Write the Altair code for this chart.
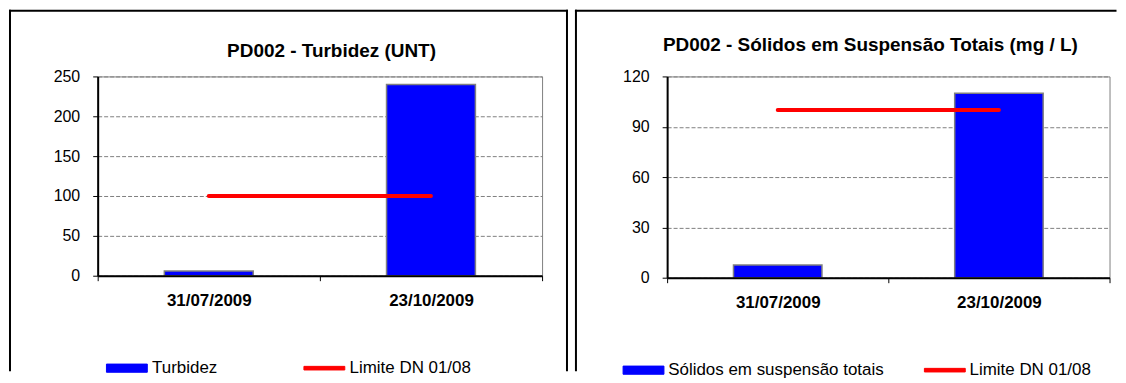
import altair as alt
import pandas as pd

# ---------------- data ----------------
datas = ["31/07/2009", "23/10/2009"]
turbidez = [6, 240]
solidos = [7.5, 110]
limite_turbidez = [100, 100]
limite_solidos = [100, 100]

serie_limite = "Limite DN 01/08"
serie_turbidez = "Turbidez"
serie_solidos = "Sólidos em suspensão totais"
titulo_turbidez = "PD002 - Turbidez  (UNT)"
titulo_solidos = "PD002 - Sólidos  em Suspensão Totais  (mg / L)"
ticks_turbidez = [0, 50, 100, 150, 200, 250]
ticks_solidos = [0, 30, 60, 90, 120]

FONT = "Liberation Sans, Arial, sans-serif"
BLUE = "#0000FF"
RED = "#FF0000"
GRAY = "#808080"
IS_LIM = "datum.value === '" + serie_limite + "'"
PATH_BAR = "M-2.5,-0.5H2.5V0.5H-2.5Z"
PATH_LIM = "M-2.5,-0.22H2.5V0.22H-2.5Z"


def panel(titulo, serie, valores, limites, ticks, w, h, frame, draw_right, tpos, leg):
    df_bar = pd.DataFrame({"data": datas, "valor": valores, "serie": [serie] * len(datas)})
    df_lim = pd.DataFrame({"data": datas, "valor": limites, "serie": [serie_limite] * len(datas)})

    x = alt.X(
        "data:N", sort=datas, title=None,
        scale=alt.Scale(paddingInner=0, paddingOuter=0),
        axis=alt.Axis(tickBand="extent", tickSize=5, tickColor="black", tickWidth=1,
                      domainColor="black", domainWidth=2, labelFont=FONT,
                      labelFontSize=17, labelFontWeight="bold", labelColor="black",
                      labelPadding=12, labelAngle=0, grid=False, zindex=1),
    )
    y = alt.Y(
        "valor:Q", title=None,
        scale=alt.Scale(domain=[ticks[0], ticks[-1]], nice=False),
        axis=alt.Axis(values=ticks, grid=True, gridColor=GRAY, gridDash=[4, 2], gridWidth=1,
                      domainColor="black", domainWidth=2, tickColor="black", tickSize=5,
                      labelFont=FONT, labelFontSize=16, labelColor="black",
                      labelPadding=13, zindex=0),
    )
    color = alt.Color(
        "serie:N",
        scale=alt.Scale(domain=[serie, serie_limite], range=[BLUE, RED]),
        legend=alt.Legend(
            orient="none", legendX=leg[0], legendY=leg[1], direction="horizontal",
            columns=2, columnPadding=leg[2], title=None, padding=0,
            symbolType={"expr": IS_LIM + " ? '" + PATH_LIM + "' : '" + PATH_BAR + "'"},
            symbolSize=269,
            symbolFillColor={"expr": IS_LIM + " ? '" + RED + "' : '" + BLUE + "'"},
            symbolStrokeColor={"expr": IS_LIM + " ? '" + RED + "' : '" + GRAY + "'"},
            symbolStrokeWidth=1, symbolOpacity=1,
            labelFont=FONT, labelFontSize=17, labelColor="black",
            labelOffset=leg[3], labelLimit=0,
        ),
    )

    bars = alt.Chart(df_bar).mark_bar(
        width=alt.RelativeBandSize(0.4), stroke=GRAY, strokeWidth=1.5
    ).encode(x=x, y=y, color=color)
    linha = alt.Chart(df_lim).mark_line(strokeWidth=4, strokeCap="round").encode(x=x, y=y, color=color)

    one = pd.DataFrame({"k": [0]})
    left, top, right, bottom = frame
    rule = dict(color="black", strokeWidth=2, strokeCap="square")
    frames = [
        alt.Chart(one).mark_rule(**rule).encode(x=alt.value(left), y=alt.value(top), y2=alt.value(bottom)),
        alt.Chart(one).mark_rule(**rule).encode(x=alt.value(left), x2=alt.value(right), y=alt.value(top)),
    ]
    if draw_right:
        frames.append(
            alt.Chart(one).mark_rule(**rule).encode(x=alt.value(right), y=alt.value(top), y2=alt.value(bottom))
        )

    titulo_layer = alt.Chart(pd.DataFrame({"titulo": [titulo]})).mark_text(
        font=FONT, fontSize=19, fontWeight="bold", align="center", baseline="alphabetic", color="black"
    ).encode(text="titulo:N", x=alt.value(tpos[0]), y=alt.value(tpos[1]))

    return alt.layer(*frames, bars, linha, titulo_layer).properties(width=w, height=h)


p1 = panel(titulo_turbidez, serie_turbidez, turbidez, limite_turbidez, ticks_turbidez,
           446, 200, (-88, -66, 471, 295), True, (234.7, -19),
           (20.3, 283.8, 84.2, 16.3))
p2 = panel(titulo_solidos, serie_solidos, solidos, limite_solidos, ticks_solidos,
           444, 202, (-91.5, -66, 450, 295), False, (204, -26),
           (-32.7, 285.8, 37.4, 15.8))

chart = (
    alt.hconcat(p1, p2, spacing=4.5)
    .resolve_scale(x="independent", y="independent", color="independent")
    .properties(padding=0, background="white")
    .configure_view(stroke=GRAY, strokeWidth=1)
    .configure_text(font=FONT)
)

chart.save("out.html", embed_options={"renderer": "svg", "actions": False})
